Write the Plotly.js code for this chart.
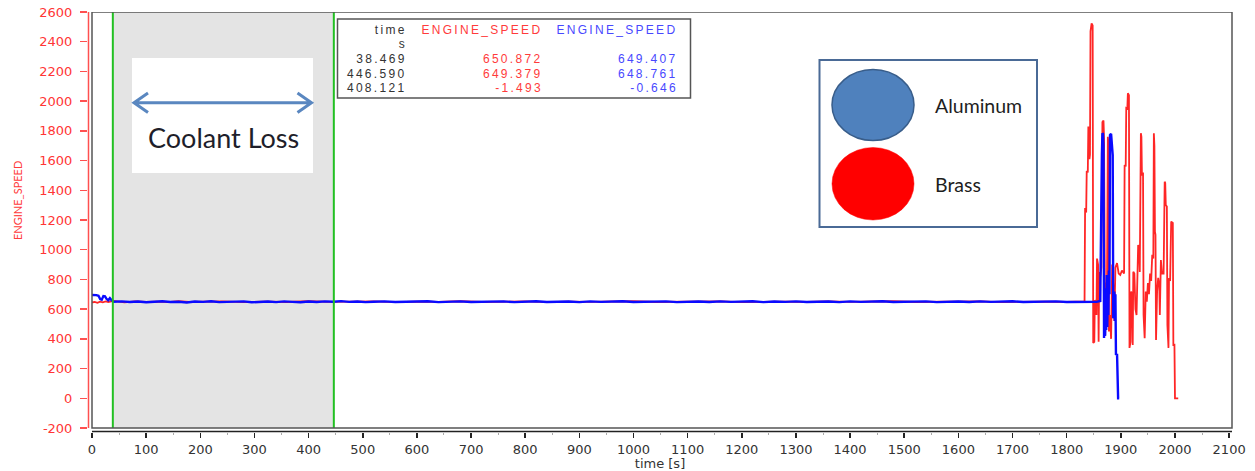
<!DOCTYPE html>
<html>
<head>
<meta charset="utf-8">
<script src="https://cdn.plot.ly/plotly-3.0.1.min.js"></script>
<style>
html,body{margin:0;padding:0;background:#fff;}
#chart{width:1255px;height:471px;}
</style>
</head>
<body>
<div id="chart"></div>
<script>
// ---------------- DATA ----------------
const blueTime = [0,4,8,12,15,18,21,24,27,30,33,36,40,55,70,85,100,115,130,145,160,175,190,205,220,235,250,265,280,295,310,325,340,355,370,385,400,415,430,446,460,475,490,505,520,540,560,580,600,620,640,660,680,700,720,740,760,780,800,820,840,860,880,900,920,940,960,980,1000,1020,1040,1060,1080,1100,1120,1140,1160,1180,1200,1220,1240,1260,1280,1300,1320,1340,1360,1380,1400,1420,1440,1460,1480,1500,1520,1540,1560,1580,1600,1620,1640,1660,1680,1700,1720,1740,1760,1780,1800,1820,1840,1855,1862,
  1863,1864,1865,1866,1867,1868,1869,1870,1871,1872,1873,1874,1875,1876,1877,1878,1879,1880,1882,1884,1885,1886,1888,1889,1890,1891,1893,1895,1897];
const blueSpeed = [695,697,694,690,668,664,688,686,668,660,674,661,650,652,648,651,646,650,653,648,650,645,651,649,653,647,650,648,652,646,650,651,647,652,649,646,651,648,652,650,654,649,651,647,650,652,648,651,649,653,647,650,652,648,651,649,652,647,650,653,648,650,651,647,652,649,650,653,648,651,649,652,647,650,651,648,652,649,650,653,647,651,649,652,648,650,651,647,652,649,650,653,648,651,649,652,647,650,651,648,652,649,650,653,648,651,649,652,648,650,651,649,655,
  1099,1300,1638,1784,1780,1700,405,740,420,700,460,830,480,740,560,860,700,1772,1780,1700,1637,538,718,520,700,291,300,0,0];

const redTime = [0,5,10,15,20,25,30,35,40,60,80,100,120,140,160,180,200,240,280,320,360,400,440,480,520,560,600,640,680,720,760,800,840,880,920,960,1000,1040,1080,1120,1160,1200,1240,1280,1320,1360,1400,1440,1480,1520,1560,1600,1640,1680,1720,1760,1800,1830,1833,
  1834,1836,1837,1839,1840,1841,1842,1843,1844,1846,1848,1849,1851,1852,1854,1855,1856,1858,1859,1860,1862,1864,1866,1868,1869,1870,1871,1873,1874,1876,1877,1878,1880,1882,1884,1886,1888,1890,1893,1896,1899,1902,1906,1907,1909,1910,1912,1913,1915,1916,1918,1919,1921,1922,1923,1925,1927,1929,1931,1932,1934,1935,1937,1938,1939,1941,1942,1944,1946,1948,1950,1952,1954,1956,1958,1960,1961,1962,1963,1964,1965,1967,1969,1971,1972,1974,1976,1979,1981,1982,1983,1985,1986,1988,1989,1991,1993,1996,1997,1999,2000,2006];
const redSpeed = [645,648,642,650,646,652,648,650,655,646,652,648,651,647,653,649,650,652,647,651,648,653,649,650,652,647,651,649,653,648,650,652,647,651,649,650,653,648,651,649,652,647,650,651,648,652,649,650,653,648,651,649,652,647,650,651,648,650,652,
  1280,1250,1530,1520,1830,1790,1610,1640,2470,2524,2510,372,380,660,650,560,940,900,380,850,820,880,1860,1870,1750,800,420,780,480,1760,1720,450,560,400,900,760,520,880,910,840,830,860,840,1570,1560,1954,1950,2053,2040,339,380,718,700,359,852,840,600,560,780,1032,990,850,1784,1760,1500,1520,560,405,718,650,775,700,840,790,965,940,1784,1700,1121,1100,392,720,810,760,560,930,840,840,1458,1450,1301,1290,494,339,810,790,1189,1180,359,360,0,0];

const cursorTimes = [38.469, 446.590];
const xTicks = [0,100,200,300,400,500,600,700,800,900,1000,1100,1200,1300,1400,1500,1600,1700,1800,1900,2000,2100];
const yTicks = [-200,0,200,400,600,800,1000,1200,1400,1600,1800,2000,2200,2400,2600];

const tableHeader = ['time', 'ENGINE_SPEED', 'ENGINE_SPEED'];
const tableUnits = ['s', '', ''];
const tableRows = [
  ['38.469', '650.872', '649.407'],
  ['446.590', '649.379', '648.761'],
  ['408.121', '-1.493', '-0.646']
];
const legendLabels = ['Aluminum', 'Brass'];
const legendColors = ['#4f81bd', '#ff0000'];
const annotationText = 'Coolant Loss';
const seriesName = 'ENGINE_SPEED';
const xTitle = 'time [s]';

// ---------------- LAYOUT HELPERS ----------------
const W = 1255, H = 471;
const L = 88, R = 1232, T = 12, B = 432;
const px = x => (x - L) / (R - L);
const py = y => (B - y) / (B - T);

const tickFont = {family: 'DejaVu Sans, sans-serif', size: 13, color: '#333'};
const narrow = 'Lato, sans-serif';

const shapes = [];
// gray shaded interval between cursors
shapes.push({type:'rect', xref:'x', yref:'y', x0:cursorTimes[0], x1:cursorTimes[1], y0:-200, y1:2600,
  fillcolor:'#e4e4e4', line:{width:0}, layer:'below'});
// cursors
cursorTimes.forEach(t => shapes.push({type:'line', xref:'x', yref:'y', x0:t, x1:t, y0:-200, y1:2600,
  line:{color:'#22c022', width:2}, layer:'above'}));
// frame
shapes.push({type:'rect', xref:'paper', yref:'y', x0:px(92), x1:1, y0:-200, y1:2600,
  line:{color:'#555', width:1.5}, fillcolor:'rgba(0,0,0,0)', layer:'above'});
// red y axis line
shapes.push({type:'line', xref:'paper', yref:'y', x0:px(88.5), x1:px(88.5), y0:-200, y1:2600,
  line:{color:'#ff5050', width:1.5}, layer:'above'});
// x axis line
shapes.push({type:'line', xref:'paper', yref:'paper', x0:px(92), x1:1, y0:py(431.5), y1:py(431.5),
  line:{color:'#222', width:1.5}, layer:'above'});
// Coolant loss white box
shapes.push({type:'rect', xref:'paper', yref:'paper', x0:px(132), x1:px(313), y0:py(173), y1:py(58),
  fillcolor:'#ffffff', line:{width:0}, layer:'above'});
// double arrow
const ay = 102.7;
shapes.push({type:'path', xref:'paper', yref:'paper',
  path:`M ${px(135)} ${py(ay)} L ${px(310)} ${py(ay)} ` +
       `M ${px(148)} ${py(93)} L ${px(134)} ${py(ay)} L ${px(148)} ${py(112.5)} ` +
       `M ${px(297.5)} ${py(93)} L ${px(311.5)} ${py(ay)} L ${px(297.5)} ${py(112.5)}`,
  line:{color:'#5a87c0', width:3}, layer:'above'});
// cursor table box
shapes.push({type:'rect', xref:'paper', yref:'paper', x0:px(337.5), x1:px(690.5), y0:py(98), y1:py(19),
  fillcolor:'#ffffff', line:{color:'#555', width:1.5}, layer:'above'});
// legend box
shapes.push({type:'rect', xref:'paper', yref:'paper', x0:px(819.5), x1:px(1037), y0:py(227), y1:py(60),
  fillcolor:'#ffffff', line:{color:'#4a6a96', width:2}, layer:'above'});
// legend ellipses
shapes.push({type:'circle', xref:'paper', yref:'paper', x0:px(832), x1:px(914), y0:py(140.5), y1:py(69.5),
  fillcolor:legendColors[0], line:{color:'#385d8a', width:1.5}, layer:'above'});
shapes.push({type:'circle', xref:'paper', yref:'paper', x0:px(832), x1:px(914), y0:py(220), y1:py(147.5),
  fillcolor:legendColors[1], line:{color:'#ff0000', width:0.5}, layer:'above'});

// ---------------- ANNOTATIONS ----------------
const annotations = [];
const tblFont = 'Liberation Sans, Arial, sans-serif';
const colRight = [406, 542, 677.5];
const colColor = ['#333333', '#ff3b3b', '#4848ff'];
const rowY = [30.5, 44, 59, 73.5, 88];
const tblLines = [tableHeader, tableUnits].concat(tableRows);
tblLines.forEach((row, r) => row.forEach((txt, c) => {
  if (!txt) return;
  annotations.push({xref:'paper', yref:'paper', x:px(colRight[c] + 2.5), y:py(rowY[r]), text:txt,
    showarrow:false, xanchor:'right', yanchor:'middle', align:'right',
    font:{family:tblFont, size:12, color:colColor[c]}});
}));
const nTable = annotations.length;

annotations.push({xref:'paper', yref:'paper', x:px(223), y:py(137), text:annotationText, showarrow:false,
  xanchor:'center', yanchor:'middle', font:{family:narrow, size:27, color:'#1e1e2a'}});
annotations.push({xref:'paper', yref:'paper', x:px(933), y:py(106), text:legendLabels[0], showarrow:false,
  xanchor:'left', yanchor:'middle', font:{family:narrow, size:19.5, color:'#1e1e1e'}});
annotations.push({xref:'paper', yref:'paper', x:px(933), y:py(184), text:legendLabels[1], showarrow:false,
  xanchor:'left', yanchor:'middle', font:{family:narrow, size:19.5, color:'#1e1e1e'}});
annotations.push({xref:'paper', yref:'paper', x:px(18), y:py(201), text:seriesName, showarrow:false,
  textangle:-90, xanchor:'center', yanchor:'middle', font:{family:narrow, size:11, color:'#ff3b3b'}});

// letter spacing for the cursor table
let css = '';
for (let i = 0; i < nTable; i++) css += `g.annotation[data-index="${i}"] text{letter-spacing:2.3px;}`;
const st = document.createElement('style'); st.textContent = css; document.head.appendChild(st);

// ---------------- TRACES ----------------
const traces = [
  {x:redTime, y:redSpeed, type:'scatter', mode:'lines', name:'Brass',
    line:{color:'rgba(255,0,0,0.85)', width:1.8}, hoverinfo:'x+y'},
  {x:blueTime, y:blueSpeed, type:'scatter', mode:'lines', name:'Aluminum',
    line:{color:'#0a0aff', width:2.4}, hoverinfo:'x+y'}
];

const layout = {
  width:W, height:H,
  margin:{l:L, r:W - R, t:T, b:H - B, pad:0},
  paper_bgcolor:'#ffffff', plot_bgcolor:'#ffffff',
  showlegend:false,
  xaxis:{range:[-7.39, 2105.3], tickvals:xTicks, ticktext:xTicks.map(String),
    showgrid:false, zeroline:false, showline:false,
    ticks:'outside', ticklen:5, tickwidth:1.5, tickcolor:'#222',
    tickfont:tickFont,
    minor:{dtick:50, tick0:0, ticks:'outside', ticklen:2, tickcolor:'#aaa', tickwidth:1},
    title:{text:xTitle, font:tickFont, standoff:2}, automargin:false, fixedrange:true},
  yaxis:{range:[-227, 2600], tickvals:yTicks, ticktext:yTicks.map(String),
    showgrid:false, zeroline:false, showline:false,
    ticks:'outside', ticklen:7, tickwidth:1.5, tickcolor:'#ff5050',
    ticklabelstandoff:5,
    tickfont:{family:'DejaVu Sans, sans-serif', size:13, color:'#ff3535'},
    automargin:false, fixedrange:true},
  shapes:shapes,
  annotations:annotations
};

Plotly.newPlot('chart', traces, layout, {displayModeBar:false, staticPlot:true});
</script>
</body>
</html>
